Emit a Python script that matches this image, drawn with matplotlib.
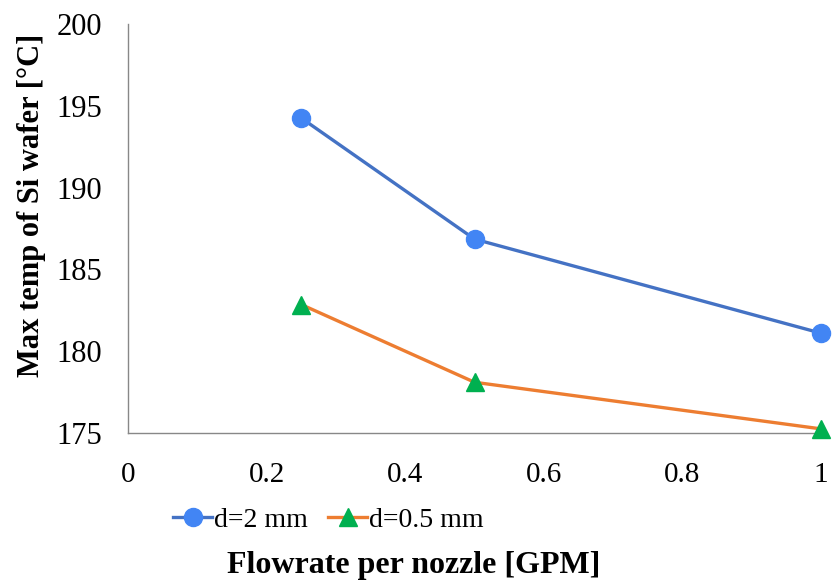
import matplotlib.pyplot as plt

# Data
flowrate = [0.25, 0.5, 1.0]
temp_d2 = [194.25, 186.85, 181.1]
temp_d05 = [182.85, 178.1, 175.25]
xticks = [0, 0.2, 0.4, 0.6, 0.8, 1]
xticklabels = ['0', '0.2', '0.4', '0.6', '0.8', '1']
yticks = [175, 180, 185, 190, 195, 200]

plt.rcParams['font.family'] = ['Liberation Serif', 'DejaVu Serif']

fig = plt.figure(figsize=(8.33, 5.84), dpi=100)
ax = fig.add_axes([0.1537, 0.2586, 0.832, 0.7003])

ax.plot(flowrate, temp_d2, color='#4472C4', linewidth=2.4, marker='o',
        markersize=13, markerfacecolor='#4285F4', markeredgecolor='#4285F4',
        label='d=2 mm', clip_on=False, zorder=3)
ax.plot(flowrate, temp_d05, color='#ED7D31', linewidth=2.4, marker='^',
        markersize=13, markerfacecolor='#00B050', markeredgecolor='#00B050',
        label='d=0.5 mm', clip_on=False, zorder=3)

ax.set_xlim(0, 1)
ax.set_ylim(175, 200)
ax.set_xticks(xticks)
ax.set_xticklabels(xticklabels)
ax.set_yticks(yticks)
ax.tick_params(axis='x', length=0, labelsize=21, pad=21)
ax.tick_params(axis='y', length=0, labelsize=22, pad=19)

for side in ['top', 'right']:
    ax.spines[side].set_visible(False)
for side in ['left', 'bottom']:
    ax.spines[side].set_color('#888888')
    ax.spines[side].set_linewidth(1.0)

fig.text(0.038, 0.649, 'Max temp of Si wafer [°C]', rotation=90, fontsize=22,
         fontweight='bold', ha='center', va='center')
fig.text(0.497, 0.0325, 'Flowrate per nozzle [GPM]', fontsize=23,
         fontweight='bold', ha='center', va='center')

ax.legend(loc='center', bbox_to_anchor=(0.289, -0.213), ncol=2, frameon=False,
          fontsize=20, handlelength=1.4, handletextpad=0.05, columnspacing=0.75)

fig.savefig('out.png', dpi=100)
